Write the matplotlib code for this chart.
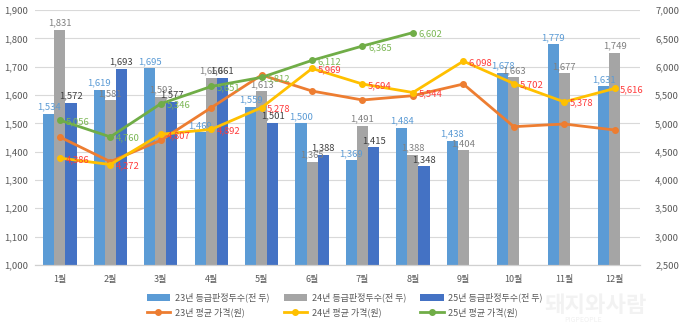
import numpy as np
import matplotlib
matplotlib.use('Agg')
import matplotlib.pyplot as plt

plt.rcParams['font.family'] = ['Noto Sans CJK KR', 'DejaVu Sans']

months = ['1월', '2월', '3월', '4월', '5월', '6월', '7월', '8월', '9월', '10월', '11월', '12월']

# 등급판정두수 (천 두)
heads_23 = [1534, 1619, 1695, 1469, 1559, 1500, 1369, 1484, 1438, 1678, 1779, 1631]
heads_24 = [1831, 1581, 1593, 1660, 1613, 1365, 1491, 1388, 1404, 1663, 1677, 1749]
heads_25 = [1572, 1693, 1577, 1661, 1501, 1388, 1415, 1348, None, None, None, None]

# 평균 가격 (원)
price_23 = [4758, 4323, 4700, 5276, 5853, 5570, 5412, 5488, 5694, 4941, 4988, 4882]
price_24 = [4386, 4272, 4807, 4892, 5278, 5969, 5694, 5544, 6098, 5702, 5378, 5616]
price_25 = [5056, 4760, 5346, 5651, 5812, 6112, 6365, 6602, None, None, None, None]

C_B23, C_B24, C_B25 = '#5B9BD5', '#A5A5A5', '#4472C4'
C_L23, C_L24, C_L25 = '#ED7D31', '#FFC000', '#70AD47'
TXT = '#595959'

fig = plt.figure(figsize=(6.8, 3.25), dpi=100)
ax = fig.add_axes([0.051, 0.185, 0.890, 0.784])
ax2 = ax.twinx()

x = np.arange(len(months))
w = 0.22


def to_arr(vals):
    return np.array([np.nan if v is None else v for v in vals], dtype=float)


bar_specs = [
    (heads_23, -w, C_B23, '#5B9BD5', '23년 등급판정두수(전 두)'),
    (heads_24, 0, C_B24, '#808080', '24년 등급판정두수(전 두)'),
    (heads_25, w, C_B25, '#404040', '25년 등급판정두수(전 두)'),
]
bar_handles = []
for vals, off, col, lcol, lab in bar_specs:
    arr = to_arr(vals)
    h = ax.bar(x + off, np.where(np.isnan(arr), 0, arr), width=w, color=col,
               label=lab, zorder=2)
    bar_handles.append(h)
    for xi, v in zip(x, vals):
        if v is None:
            continue
        ax.text(xi + off, v + 8, f'{v:,}', ha='center', va='bottom',
                fontsize=6.8, color=lcol, zorder=5)

ax.set_ylim(1000, 1900)
ax.set_yticks(np.arange(1000, 1901, 100))
ax.set_yticklabels([f'{v:,}' for v in range(1000, 1901, 100)])
ax.set_xlim(-0.5, len(months) - 0.5)
ax.set_xticks(x)
ax.set_xticklabels(months)
ax.grid(axis='y', color='#D9D9D9', linewidth=0.8, zorder=0)
ax.set_axisbelow(True)

line_specs = [
    (price_23, C_L23, None, '23년 평균 가격(원)'),
    (price_24, C_L24, '#FF3B3B', '24년 평균 가격(원)'),
    (price_25, C_L25, '#7CB755', '25년 평균 가격(원)'),
]
line_handles = []
for vals, col, lcol, lab in line_specs:
    arr = to_arr(vals)
    h, = ax2.plot(x, arr, color=col, linewidth=2, marker='o', markersize=4,
                  label=lab, zorder=3)
    line_handles.append(h)
    if lcol is None:
        continue
    for xi, v in zip(x, vals):
        if v is None:
            continue
        ax2.annotate(f'{v:,}', (xi, v), xytext=(4, -1), textcoords='offset points',
                     ha='left', va='center', fontsize=6.8, color=lcol, zorder=6)

ax2.set_ylim(2500, 7000)
ax2.set_yticks(np.arange(2500, 7001, 500))
ax2.set_yticklabels([f'{v:,}' for v in range(2500, 7001, 500)])

for a in (ax, ax2):
    for s in ('top', 'left', 'right'):
        a.spines[s].set_visible(False)
    a.spines['bottom'].set_color('#D0D0D0')
    a.tick_params(length=0, labelsize=6.8, colors=TXT)
ax.tick_params(axis='x', pad=7, labelsize=6.5)
ax.tick_params(axis='y', pad=5)
ax2.tick_params(axis='y', pad=11)

handles = [bar_handles[0], line_handles[0], bar_handles[1], line_handles[1],
           bar_handles[2], line_handles[2]]
leg = fig.legend(handles, [h.get_label() for h in handles], ncol=3,
                 loc='center', bbox_to_anchor=(0.507, 0.062), frameon=False,
                 fontsize=6.5, handlelength=2.6, columnspacing=1.6,
                 handletextpad=0.5, labelspacing=0.5)
for t in leg.get_texts():
    t.set_color(TXT)

# 워터마크
fig.text(0.80, 0.06, '돼지와사람', fontsize=16, color='#E6E6E6', alpha=0.5,
         fontweight='bold', ha='left', va='center')
fig.text(0.83, 0.015, 'PIGPEOPLE', fontsize=5, color='#E6E6E6', alpha=0.6,
         ha='left', va='center')

fig.savefig('out.png', dpi=100)
